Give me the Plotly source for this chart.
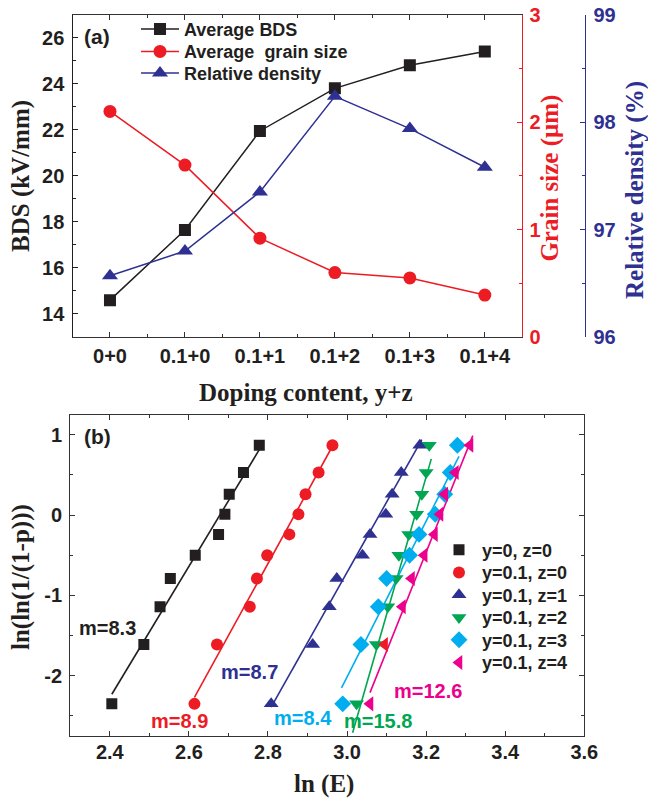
import plotly.graph_objects as go

W, H = 648, 802
def px(x): return x / W
def py(y): return 1 - y / H

BLACK = '#231f20'; RED = '#ed1c24'; NAVY = '#2e3192'
GREEN = '#00a651'; CYAN = '#00aeef'; MAGENTA = '#ec008c'
SANS = 'Liberation Sans'; SERIF = 'Liberation Serif'

# ---------- panel (a) data ----------
categories = ['0+0', '0.1+0', '0.1+1', '0.1+2', '0.1+3', '0.1+4']
bds = [14.6, 17.65, 21.95, 23.8, 24.8, 25.4]
grain_size = [2.1, 1.6, 0.92, 0.6, 0.55, 0.39]
rel_density = [96.57, 96.8, 97.35, 98.24, 97.94, 97.58]
cat_pos = list(range(len(categories)))

# ---------- panel (b) data ----------
weibull_y = [-2.35, -1.61, -1.14, -0.79, -0.50, -0.24, 0.01, 0.26, 0.53, 0.87]
lnE_y0z0 = [2.405, 2.486, 2.527, 2.553, 2.616, 2.675, 2.691, 2.702, 2.738, 2.778]
lnE_y01z0 = [2.614, 2.671, 2.754, 2.772, 2.798, 2.854, 2.877, 2.895, 2.928, 2.963]
lnE_y01z1 = [2.808, 2.913, 2.955, 2.974, 3.039, 3.058, 3.098, 3.114, 3.137, 3.184]
lnE_y01z2 = [3.024, 3.074, 3.103, 3.124, 3.131, 3.156, 3.176, 3.189, 3.200, 3.208]
lnE_y01z3 = [2.989, 3.035, 3.079, 3.100, 3.158, 3.182, 3.223, 3.247, 3.261, 3.279]
lnE_y01z4 = [3.058, 3.095, 3.140, 3.163, 3.195, 3.221, 3.235, 3.247, 3.274, 3.311]

fit_x_y0z0 = [2.405, 2.778];  fit_y_y0z0 = [-2.23, 0.815]
fit_x_y01z0 = [2.614, 2.965]; fit_y_y01z0 = [-2.27, 0.876]
fit_x_y01z1 = [2.808, 3.189]; fit_y_y01z1 = [-2.39, 0.94]
fit_x_y01z2 = [3.014, 3.213]; fit_y_y01z2 = [-2.71, 0.70]
fit_x_y01z3 = [2.986, 3.283]; fit_y_y01z3 = [-2.15, 0.73]
fit_x_y01z4 = [3.058, 3.318]; fit_y_y01z4 = [-2.21, 0.99]

series_names = ['y=0, z=0', 'y=0.1, z=0', 'y=0.1, z=1', 'y=0.1, z=2', 'y=0.1, z=3', 'y=0.1, z=4']
slope_labels = ['m=8.3', 'm=8.9', 'm=8.7', 'm=15.8', 'm=8.4', 'm=12.6']
slope_label_x = [2.395, 2.577, 2.753, 3.077, 2.889, 3.205]
slope_label_y = [-1.40, -2.557, -1.957, -2.557, -2.528, -2.184]

x_b_ticks = [2.4, 2.6, 2.8, 3.0, 3.2, 3.4, 3.6]
x_b_ticktext = ['2.4', '2.6', '2.8', '3.0', '3.2', '3.4', '3.6']
y_b_ticks = [-2, -1, 0, 1]
y_b_ticktext = ['-2', '-1', '0', '1']

fig = go.Figure()

# panel a traces
fig.add_trace(go.Scatter(x=cat_pos, y=bds, mode='lines+markers', name='Average BDS',
                         line=dict(color=BLACK, width=1.5),
                         marker=dict(symbol='square', size=12, color=BLACK),
                         xaxis='x', yaxis='y', legend='legend'))
fig.add_trace(go.Scatter(x=cat_pos, y=grain_size, mode='lines+markers', name='Average \u00a0grain size',
                         line=dict(color=RED, width=1.5),
                         marker=dict(symbol='circle', size=13, color=RED),
                         xaxis='x', yaxis='y2', legend='legend2'))
fig.add_trace(go.Scatter(x=cat_pos, y=rel_density, mode='lines+markers', name='Relative density',
                         line=dict(color=NAVY, width=1.5),
                         marker=dict(symbol='triangle-up', size=14, color=NAVY),
                         xaxis='x', yaxis='y3', legend='legend3'))

# panel b traces
colors_b = [BLACK, RED, NAVY, GREEN, CYAN, MAGENTA]
symbols_b = ['square', 'circle', 'triangle-up', 'triangle-down', 'diamond', 'triangle-left']
sizes_b = [11, 12, 13, 13, 13, 13]
data_b = [lnE_y0z0, lnE_y01z0, lnE_y01z1, lnE_y01z2, lnE_y01z3, lnE_y01z4]
fits_b = [(fit_x_y0z0, fit_y_y0z0), (fit_x_y01z0, fit_y_y01z0), (fit_x_y01z1, fit_y_y01z1),
          (fit_x_y01z2, fit_y_y01z2), (fit_x_y01z3, fit_y_y01z3), (fit_x_y01z4, fit_y_y01z4)]

for i in range(6):
    fx, fy = fits_b[i]
    fig.add_trace(go.Scatter(x=fx, y=fy, mode='lines', line=dict(color=colors_b[i], width=1.6),
                             showlegend=False, hoverinfo='skip', xaxis='x2', yaxis='y4'))
for i in range(6):
    mcol = colors_b[i]
    if i == 5:
        mcol = [MAGENTA, RED] + [MAGENTA] * 8
    fig.add_trace(go.Scatter(x=data_b[i], y=weibull_y, mode='markers', name=series_names[i],
                             marker=dict(symbol=symbols_b[i], size=sizes_b[i], color=mcol),
                             xaxis='x2', yaxis='y4', legend='legend%d' % (4 + i)))

AX = '#333333'
tickfont = dict(family=SANS, size=20, color=BLACK, weight='bold')

layout = dict(
    template='none',
    width=W, height=H, autosize=False,
    margin=dict(l=0, r=0, t=0, b=0, pad=0, autoexpand=False),
    paper_bgcolor='white', plot_bgcolor='rgba(0,0,0,0)',
    showlegend=True,
    xaxis=dict(domain=[px(72.5), px(522.3)], range=[-0.5, 5.5], anchor='y', automargin=False,
               tickmode='array', tickvals=cat_pos, ticktext=categories,
               showline=True, linecolor=AX, linewidth=1.3, mirror='ticks',
               ticks='inside', ticklen=5, tickwidth=1.2, tickcolor=AX,
               minor=dict(tickmode='linear', tick0=-0.5, dtick=1, ticks='inside', ticklen=3, tickcolor=AX),
               showgrid=False, zeroline=False, tickfont=tickfont, ticklabelstandoff=1),
    yaxis=dict(domain=[py(337), py(14.7)], range=[13, 27], anchor='x', automargin=False,
               tickmode='linear', tick0=0, dtick=2,
               showline=True, linecolor=BLACK, linewidth=1.3,
               ticks='inside', ticklen=5, tickwidth=1.2, tickcolor=BLACK,
               minor=dict(dtick=1, ticks='inside', ticklen=3, tickcolor=BLACK),
               showgrid=False, zeroline=False, tickfont=tickfont, ticklabelstandoff=3),
    yaxis2=dict(overlaying='y', side='right', anchor='x', range=[0, 3], automargin=False,
                tickmode='linear', tick0=0, dtick=1,
                showline=True, linecolor=RED, linewidth=1.3,
                ticks='inside', ticklen=5, tickwidth=1.2, tickcolor=RED,
                minor=dict(dtick=0.5, ticks='inside', ticklen=3, tickcolor=RED),
                showgrid=False, zeroline=False,
                tickfont=dict(family=SANS, size=20, color=RED, weight='bold'), ticklabelstandoff=2),
    yaxis3=dict(overlaying='y', side='right', anchor='free', position=px(585.3), range=[96, 99],
                automargin=False, tickmode='linear', tick0=96, dtick=1,
                showline=True, linecolor=NAVY, linewidth=1.3,
                ticks='inside', ticklen=5, tickwidth=1.2, tickcolor=NAVY,
                minor=dict(dtick=0.5, ticks='inside', ticklen=3, tickcolor=NAVY),
                showgrid=False, zeroline=False,
                tickfont=dict(family=SANS, size=20, color=NAVY, weight='bold'), ticklabelstandoff=3),
    xaxis2=dict(domain=[px(70.3), px(584.3)], range=[2.3, 3.6], anchor='y4', automargin=False,
                tickmode='array', tickvals=x_b_ticks, ticktext=x_b_ticktext,
                showline=True, linecolor=AX, linewidth=1.3, mirror='ticks',
                ticks='inside', ticklen=5, tickwidth=1.2, tickcolor=AX,
                minor=dict(tickmode='linear', tick0=2.3, dtick=0.1, ticks='inside', ticklen=3, tickcolor=AX),
                showgrid=False, zeroline=False, tickfont=tickfont, ticklabelstandoff=-2),
    yaxis4=dict(domain=[py(736), py(414.7)], range=[-2.75, 1.25], anchor='x2', automargin=False,
                tickmode='array', tickvals=y_b_ticks, ticktext=y_b_ticktext,
                showline=True, linecolor=AX, linewidth=1.3, mirror='ticks',
                ticks='inside', ticklen=5, tickwidth=1.2, tickcolor=AX,
                minor=dict(tickmode='linear', tick0=-2.5, dtick=0.5, ticks='inside', ticklen=3, tickcolor=AX),
                showgrid=False, zeroline=False, tickfont=tickfont, ticklabelstandoff=3),
)

# legends (one per entry so each row sits exactly where the reference has it)
leg_a_rows = [29.3, 51.7, 73.3]
for k, yy in enumerate(leg_a_rows):
    name = 'legend' if k == 0 else 'legend%d' % (k + 1)
    layout[name] = dict(x=px(158 - 22), y=py(yy), xanchor='left', yanchor='middle',
                        bgcolor='rgba(0,0,0,0)', borderwidth=0, itemwidth=38,
                        font=dict(family=SANS, size=18, color=BLACK, weight='bold'))
leg_b_rows = [550, 572.7, 595, 617.7, 640, 662.7]
for k, yy in enumerate(leg_b_rows):
    layout['legend%d' % (4 + k)] = dict(x=px(458 - 22), y=py(yy), xanchor='left', yanchor='middle',
                                        bgcolor='rgba(0,0,0,0)', borderwidth=0, itemwidth=36,
                                        font=dict(family=SANS, size=18, color=BLACK, weight='bold'))

fig.update_layout(**layout)

ann = []
titlefont = dict(family=SERIF, size=25, weight='bold')
C = dict(xref='paper', yref='paper', xanchor='center', yanchor='middle', showarrow=False)
ann.append(dict(text='BDS (kV/mm)', x=px(21), y=py(176), textangle=-90,
                font=dict(color=BLACK, **titlefont), **C))
ann.append(dict(text='Grain size (\u03bcm)', x=px(549.6), y=py(178), textangle=-90,
                font=dict(color=RED, **titlefont), **C))
ann.append(dict(text='Relative density (%)', x=px(635), y=py(190), textangle=-90,
                font=dict(color=NAVY, **titlefont), **C))
ann.append(dict(text='Doping content, y+z', x=px(306), y=py(393),
                font=dict(color=BLACK, **titlefont), **C))
ann.append(dict(text='ln (E)', x=px(324), y=py(784),
                font=dict(color=BLACK, **titlefont), **C))
ann.append(dict(text='ln(ln(1/(1-p)))', x=px(21), y=py(577), textangle=-90,
                font=dict(color=BLACK, **titlefont), **C))
ann.append(dict(text='(a)', x=px(97), y=py(37),
                font=dict(family=SANS, size=21, color=BLACK, weight='bold'), **C))
ann.append(dict(text='(b)', x=px(97.5), y=py(436.7),
                font=dict(family=SANS, size=21, color=BLACK, weight='bold'), **C))
for i in range(6):
    ann.append(dict(text=slope_labels[i], x=slope_label_x[i], y=slope_label_y[i], xref='x2', yref='y4',
                    xanchor='center', yanchor='middle', showarrow=False,
                    font=dict(family=SANS, size=20, color=colors_b[i], weight='bold')))
fig.update_layout(annotations=ann)

# remove the browser's default 8px body margin so the figure fills the window exactly
fig.write_html('out.html', config={'displayModeBar': False},
               post_script="document.body.style.margin='0px';document.body.style.padding='0px';"
                           "document.documentElement.style.overflow='hidden';")
